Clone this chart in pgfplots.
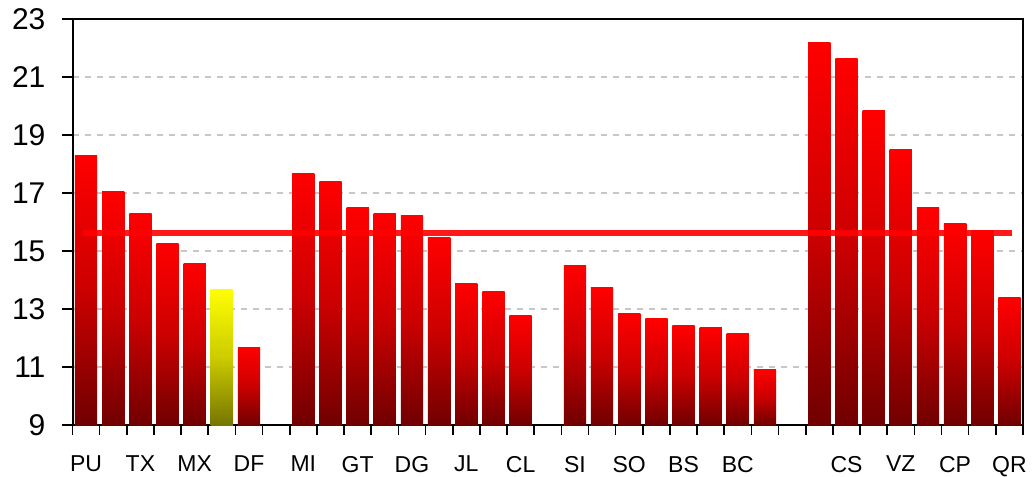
\documentclass[border=0pt]{standalone}
\usepackage{pgfplots}
\pgfplotsset{compat=1.18}
\usepackage{fontspec}
\setmainfont{Liberation Sans}
\pgfplotsset{
  redbar/.style={ybar, bar width=0.82, bar shift=0pt, draw=none, top color=red, bottom color=red!44!black, middle color=red!80!black},
  yellowbar/.style={ybar, bar width=0.82, bar shift=0pt, draw=none, top color=yellow, bottom color=yellow!46!black, middle color=yellow!80!black},
}
\newcommand\rbar[2]{\addplot[redbar] coordinates {(#1,#2)};}
\begin{document}
\begin{tikzpicture}
\begin{axis}[
  name=ax,
  scale only axis,
  width=475.25pt, height=202.85pt,
  xmin=-0.5, xmax=34.5,
  ymin=9, ymax=23,
  ytick={9,11,...,23},
  xtick={-0.5,0.5,...,34.5},
  xticklabels={},
  extra x ticks={0,2,4,6,8,10,12,14,16,18,20,22,24,28,30,32,34},
  extra x tick labels={PU,TX,MX,DF,MI,GT,DG,JL,CL,SI,SO,BS,BC,CS,VZ,CP,QR},
  extra x tick style={major tick length=0pt, tick label style={font=\fontsize{11.5}{12}\selectfont, yshift=-12pt}},
  tick pos=left,
  tick align=outside,
  major tick length=5pt,
  tick style={black, line width=0.8pt},
  axis line style={black, line width=1pt},
  ymajorgrids,
  major grid style={dash pattern=on 3pt off 3pt, color=black!22, line width=0.8pt},
  /pgf/number format/assume math mode=true,
  yticklabel style={font=\fontsize{15}{15}\selectfont, xshift=-5pt},
]
\rbar{0}{18.31} \rbar{1}{17.07} \rbar{2}{16.31} \rbar{3}{15.28} \rbar{4}{14.59}
\addplot[yellowbar] coordinates {(5,13.69)};
\rbar{6}{11.69}
\rbar{8}{17.69} \rbar{9}{17.41} \rbar{10}{16.52} \rbar{11}{16.31} \rbar{12}{16.24}
\rbar{13}{15.48} \rbar{14}{13.90} \rbar{15}{13.62} \rbar{16}{12.79}
\rbar{18}{14.52} \rbar{19}{13.76} \rbar{20}{12.86} \rbar{21}{12.66} \rbar{22}{12.45}
\rbar{23}{12.38} \rbar{24}{12.17} \rbar{25}{10.93}
\rbar{27}{22.21} \rbar{28}{21.66} \rbar{29}{19.86} \rbar{30}{18.52} \rbar{31}{16.52}
\rbar{32}{15.97} \rbar{33}{15.72} \rbar{34}{13.41}
\addplot[red, line width=3pt, opacity=0.9] coordinates {(-0.1,15.64) (34.1,15.64)};
\end{axis}
\pgfresetboundingbox
\path[use as bounding box] ([shift={(-36.25pt,-25.5pt)}]ax.south west) rectangle ([shift={(4.5pt,9.65pt)}]ax.north east);
\end{tikzpicture}
\end{document}
